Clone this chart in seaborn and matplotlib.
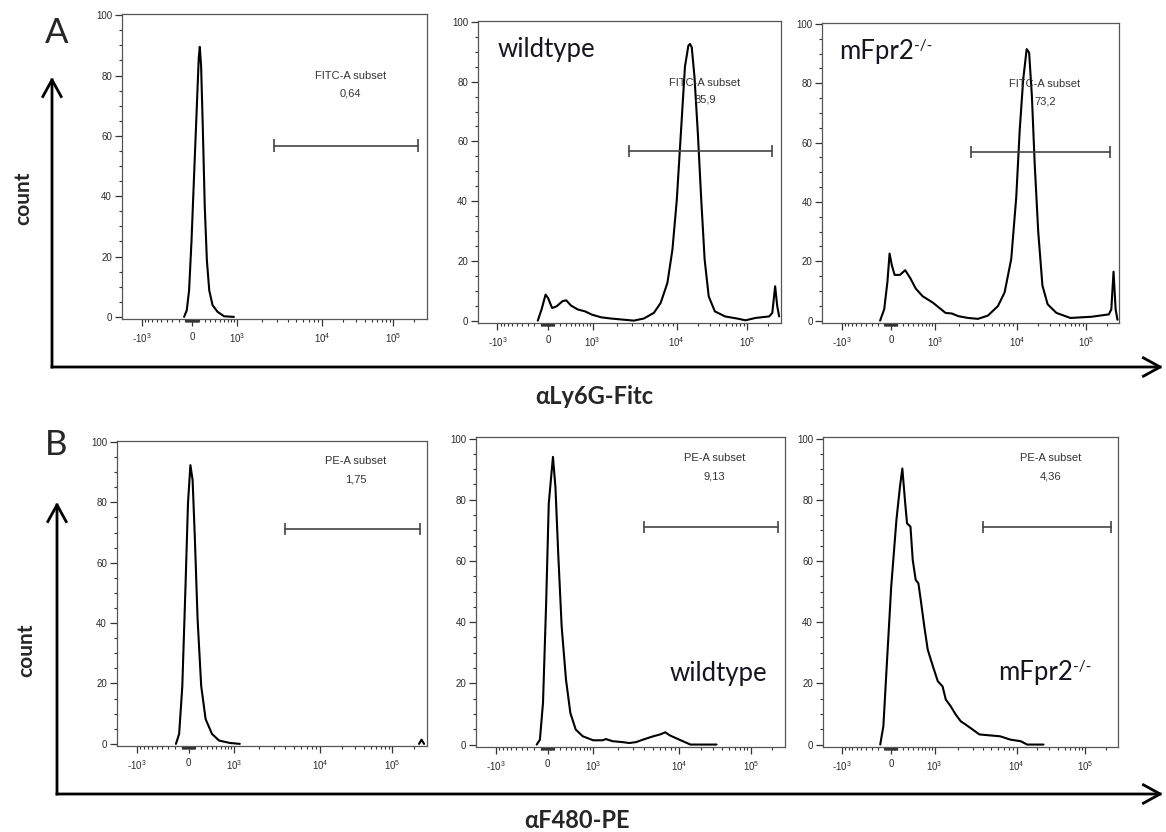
import numpy as np
import pandas as pd
import seaborn as sns
import matplotlib
matplotlib.use("Agg")
import matplotlib.pyplot as plt
from matplotlib.patches import FancyArrowPatch

# ---------------- data ----------------
A1_X = [-120, -81, -48, -14, 27, 70, 102, 119, 141, 169, 203, 240, 283, 346, 447, 601, 883]
A1_Y = [0, 2.2, 8.8, 25, 47.5, 69.6, 86, 89.5, 83, 63, 36.5, 18.8, 8.8, 3.9, 1.7, 0.2, 0]

A2_X = [-148, -93, -35, 0, 67, 142, 243, 311, 411, 566, 753, 975, 1286, 1687, 2415, 3162,
        4140, 5420, 6494, 7780, 8895, 10000, 11430, 13060, 14600, 15400, 16320, 17820, 19930,
        22280, 24900, 28450, 34750, 48530, 75700, 94600, 132000, 206000, 228000, 250000,
        268000, 285000]
A2_Y = [0, 3.7, 8.7, 7.6, 4.2, 4.8, 6.5, 6.8, 5.0, 3.7, 3.1, 2.0, 1.1, 0.7, 0.3, 0, 0.7,
        2.6, 5.9, 12.6, 23.7, 40.4, 62.7, 85, 92, 92.6, 91.5, 81.8, 62.7, 40.4, 20.4, 8.1, 3.1,
        1.4, 0.6, 0.1, 0.9, 1.4, 2.6, 11.5, 4.8, 1.4]

A3_X = [-164, -102, -55, -23, 12, 58, 147, 241, 342, 453, 622, 939, 1146, 1374, 1648, 1976,
        2600, 3420, 4490, 5900, 7080, 8490, 9730, 10850, 12200, 13710, 14880, 16330, 17930,
        20160, 23210, 27640, 37030, 59100, 119200, 213800, 232000, 250000, 268000, 285000]
A3_Y = [0, 3.8, 12.9, 22.6, 18.6, 15.4, 15.4, 17, 14.2, 10.8, 8.2, 6.0, 4.3, 2.6, 2.4, 1.5,
        0.9, 0.6, 1.7, 4.9, 9.5, 20.8, 41.6, 64.1, 81.3, 91.5, 90.3, 75.5, 52.7, 30, 11.8,
        5.5, 2.6, 0.9, 1.3, 2.1, 3.8, 16.5, 3.8, 0.3]

B1_X = [-181, -134, -89, -44, -9, 28, 63, 98, 144, 204, 282, 404, 560, 858, 1174]
B1_Y = [0, 3.3, 19, 52, 79.7, 92.3, 87.4, 68.7, 41.2, 19.2, 8.2, 3.3, 1.1, 0.3, 0]
B1_BLIP_X = [235000, 254000, 276000]
B1_BLIP_Y = [0, 1.4, 0]

B2_X = [-156, -110, -66, -22, 17, 84, 124, 170, 229, 307, 392, 506, 680, 1000, 1312, 1435,
        1719, 2254, 2698, 3236, 3873, 5078, 6083, 6966, 7980, 10540, 14430, 21930, 33340]
B2_Y = [0, 1.6, 13.6, 46, 78.8, 94, 84.2, 62.5, 38.6, 21.2, 10.3, 4.9, 2.7, 1.4, 1.4, 1.8,
        1.1, 0.8, 0.5, 0.8, 1.6, 2.7, 3.3, 4.0, 2.9, 1.4, 0, 0, 0]

B3_X = [-164, -116, -69, 0, 87, 147, 189, 241, 275, 342, 389, 453, 515, 573, 667, 767, 939,
        1099, 1267, 1393, 1606, 1851, 2134, 2460, 2973, 3594, 4780, 6339, 8435, 11410,
        14190, 24570]
B3_Y = [0, 6, 24.5, 51.6, 73.4, 84.2, 90.2, 78.8, 72.3, 71.2, 60.3, 53.8, 52.7, 47.3, 38.6,
        31, 25.5, 20.7, 19, 14.7, 12.5, 9.8, 7.6, 6.5, 4.9, 3.3, 3.0, 2.7, 1.6, 1.1, 0, 0]

GATE_A = [2800, 225000]
GATE_A_Y = 56.8
GATE_B = [4000, 240000]
GATE_B_Y = 71.2

GATE_NAME_A = "FITC-A subset"
GATE_NAME_B = "PE-A subset"
PCT_A = ["0,64", "85,9", "73,2"]
PCT_B = ["1,75", "9,13", "4,36"]

# sample name, superscript
SAMPLE_A = [None, ("wildtype", ""), ("mFpr2", "-/-")]
SAMPLE_B = [None, ("wildtype", ""), ("mFpr2", "-/-")]

X_MAJOR = [-1e3, 0, 1e3, 1e4, 1e5]
X_MAJOR_LABELS = [r"-10$^{\mathregular{3}}$", "0", r"10$^{\mathregular{3}}$",
                  r"10$^{\mathregular{4}}$", r"10$^{\mathregular{5}}$"]
Y_MAJOR = [0, 20, 40, 60, 80, 100]

# ---------------- biexponential-like scale ----------------
H_ANCH = np.arcsinh(np.array(X_MAJOR) / 500.0)
P_ANCH = np.array([20.0, 71.0, 116.0, 201.0, 272.0])


def _interp(v, xp, fp):
    v = np.asarray(v, dtype=float)
    out = np.interp(v, xp, fp)
    s0 = (fp[1] - fp[0]) / (xp[1] - xp[0])
    s1 = (fp[-1] - fp[-2]) / (xp[-1] - xp[-2])
    out = np.where(v < xp[0], fp[0] + (v - xp[0]) * s0, out)
    out = np.where(v > xp[-1], fp[-1] + (v - xp[-1]) * s1, out)
    return out


def fwd(x):
    return _interp(np.arcsinh(np.asarray(x, dtype=float) / 500.0), H_ANCH, P_ANCH)


def inv(p):
    return 500.0 * np.sinh(_interp(p, P_ANCH, H_ANCH))


minor = []
minor += [-v for v in range(100, 1000, 100)]
minor += [-v for v in range(10, 100, 10)]
minor += list(range(10, 100, 10))
minor += list(range(100, 1000, 100))
minor += [k * 1e3 for k in range(2, 10)]
minor += [k * 1e4 for k in range(2, 10)]
minor += [2e5]
X_MINOR = minor

XLIM = (-1830, 300000)
YLIM = (-0.7, 100.4)

# ---------------- figure ----------------
sns.set_theme(style="ticks")
plt.rcParams["font.family"] = ["Liberation Sans", "DejaVu Sans"]
plt.rcParams["xtick.bottom"] = True
plt.rcParams["ytick.left"] = True

W, H = 1166, 832
fig = plt.figure(figsize=(W / 100, H / 100), dpi=100)
fig.patch.set_facecolor("white")

# axes boxes in pixels: x0, x1, ytop, ybottom
BOXES = {
    "A1": (121.7, 426.7, 14.0, 319.0),
    "A2": (477.7, 780.7, 20.7, 322.7),
    "A3": (822.3, 1119.0, 22.7, 322.7),
    "B1": (116.7, 426.7, 440.7, 746.0),
    "B2": (476.0, 785.0, 437.3, 746.7),
    "B3": (822.7, 1118.0, 437.3, 746.7),
}

CURVES = {
    "A1": [(A1_X, A1_Y)],
    "A2": [(A2_X, A2_Y)],
    "A3": [(A3_X, A3_Y)],
    "B1": [(B1_X, B1_Y), (B1_BLIP_X, B1_BLIP_Y)],
    "B2": [(B2_X, B2_Y)],
    "B3": [(B3_X, B3_Y)],
}

SAMPLE_POS = {
    "A2": (0.066, 0.905), "A3": (0.057, 0.905),
    "B2": (0.628, 0.238), "B3": (0.594, 0.241),
}

SAMPLE_FONT = ["Lato", "DejaVu Sans"]


def make_ax(key):
    x0, x1, yt, yb = BOXES[key]
    return fig.add_axes([x0 / W, 1 - yb / H, (x1 - x0) / W, (yb - yt) / H])


for key in ["A1", "A2", "A3", "B1", "B2", "B3"]:
    ax = make_ax(key)
    row = key[0]
    idx = int(key[1]) - 1
    frames = []
    for s, (xs, ys) in enumerate(CURVES[key]):
        frames.append(pd.DataFrame({"x": xs, "y": ys, "seg": s}))
    df = pd.concat(frames, ignore_index=True)
    ax.set_xscale("function", functions=(fwd, inv))
    sns.lineplot(data=df, x="x", y="y", units="seg", estimator=None, sort=False,
                 color="black", lw=1.5, ax=ax, legend=False)
    ax.set_xlim(*XLIM)
    ax.set_ylim(*YLIM)
    ax.set_xlabel("")
    ax.set_ylabel("")

    ax.set_xticks(X_MAJOR)
    ax.set_xticklabels(X_MAJOR_LABELS)
    ax.set_xticks(X_MINOR, minor=True)
    ax.set_yticks(Y_MAJOR)
    ax.set_yticks(np.arange(0, 101, 5), minor=True)
    ax.tick_params(axis="both", which="both", bottom=True, left=True, top=False, right=False)
    ax.tick_params(axis="both", which="major", direction="out", length=5, width=0.9,
                   color="#333333", labelsize=7, labelcolor="#2a2a2a", pad=2)
    ax.tick_params(axis="both", which="minor", direction="out", length=2.5, width=0.8,
                   color="#333333")
    ax.tick_params(axis="x", which="major", pad=4)
    for sp in ax.spines.values():
        sp.set_visible(True)
        sp.set_color("#555555")
        sp.set_linewidth(0.9)

    # gate
    g = GATE_A if row == "A" else GATE_B
    gy = GATE_A_Y if row == "A" else GATE_B_Y
    ax.plot(g, [gy, gy], color="#444444", lw=1.2)
    ax.vlines(g, gy - 2.0, gy + 2.0, color="#444444", lw=1.2)
    gc = float(np.sqrt(g[0] * g[1]))
    name = GATE_NAME_A if row == "A" else GATE_NAME_B
    pct = (PCT_A if row == "A" else PCT_B)[idx]
    y1, y2 = (79.7, 73.9) if row == "A" else (93.7, 87.7)
    ax.text(gc, y1, name, ha="center", va="center", fontsize=8, color="#333333")
    ax.text(gc, y2, pct, ha="center", va="center", fontsize=8, color="#333333")

    sample = (SAMPLE_A if row == "A" else SAMPLE_B)[idx]
    if sample:
        px, py = SAMPLE_POS[key]
        t = ax.text(px, py, sample[0], transform=ax.transAxes, ha="left", va="center",
                    fontsize=18.5, family=SAMPLE_FONT, color="#15151f")
        if sample[1]:
            ax.annotate(sample[1], xy=(1.0, 0.97), xycoords=t, ha="left", va="top",
                        fontsize=11, family=SAMPLE_FONT, color="#15151f")

# ---------------- big axis arrows and labels ----------------
def fpt(x, y):
    return (x / W, 1 - y / H)


def arrow(p0, p1):
    a = FancyArrowPatch(fpt(*p0), fpt(*p1), transform=fig.transFigure,
                        arrowstyle="->,head_length=0.6,head_width=0.33",
                        mutation_scale=20, lw=2.0, color="black",
                        shrinkA=0, shrinkB=0, capstyle="projecting")
    fig.add_artist(a)


arrow((52, 367), (52, 77))
arrow((52, 367), (1163, 367))
arrow((57, 794), (57, 502))
arrow((57, 794), (1163, 794))

LABEL_FONT = ["Lato", "DejaVu Sans"]
fig.text(*fpt(57, 33), "A", fontsize=25, family=LABEL_FONT, ha="center", va="center")
fig.text(*fpt(56, 445), "B", fontsize=25, family=LABEL_FONT, ha="center", va="center")
fig.text(*fpt(23, 198), "count", fontsize=15, fontweight="bold", family=LABEL_FONT,
         rotation=90, ha="center", va="center")
fig.text(*fpt(26, 650), "count", fontsize=15, fontweight="bold", family=LABEL_FONT,
         rotation=90, ha="center", va="center")
fig.text(*fpt(594, 396), "\u03b1Ly6G-Fitc", fontsize=17, fontweight="bold",
         family=LABEL_FONT, ha="center", va="center")
fig.text(*fpt(577, 820), "\u03b1F480-PE", fontsize=17, fontweight="bold",
         family=LABEL_FONT, ha="center", va="center")

fig.savefig("out.png", dpi=100, facecolor="white")
